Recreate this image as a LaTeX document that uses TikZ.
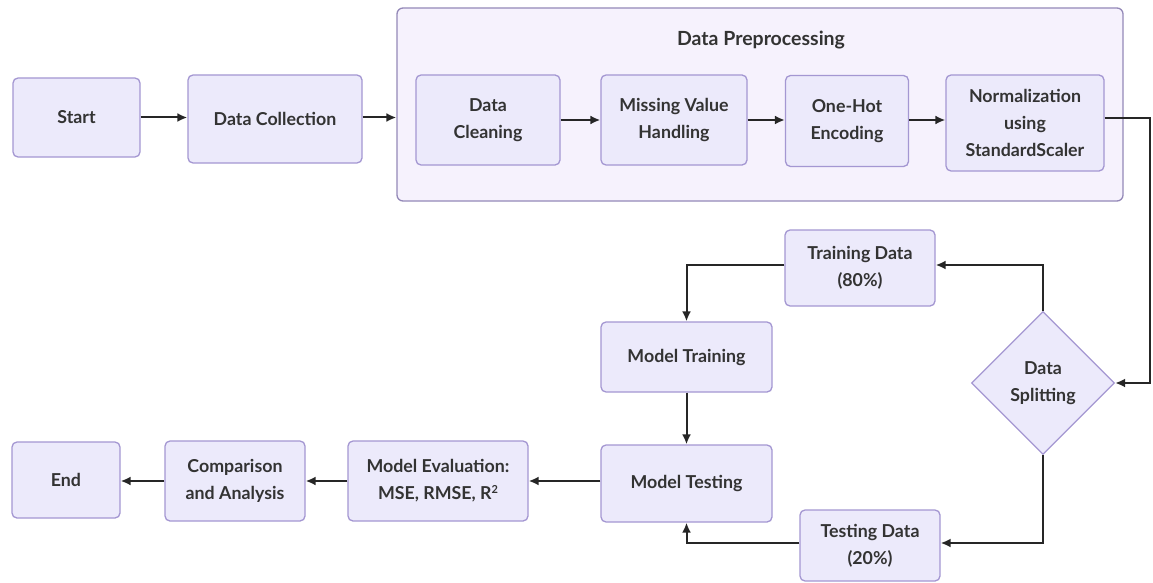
\documentclass[tikz,border=0pt]{standalone}
\usepackage{fontspec}
\setmainfont{Lato}
\usetikzlibrary{shapes.geometric,arrows.meta}
\definecolor{nodefill}{HTML}{ECEAFB}
\definecolor{nodedraw}{HTML}{A497D2}
\definecolor{clusterfill}{HTML}{F6F2FD}
\definecolor{clusterdraw}{HTML}{9489B8}
\definecolor{txt}{HTML}{333333}
\begin{document}
\begin{tikzpicture}[x=1pt,y=-1pt,
  box/.style={draw=nodedraw,fill=nodefill,line width=1.3pt,rounded corners=5pt,align=center,
    font=\fontsize{17.8}{27}\selectfont\bfseries,text=txt,inner sep=0pt},
  dia/.style={diamond,draw=nodedraw,fill=nodefill,line width=1.3pt,align=center,
    font=\fontsize{17.8}{27}\selectfont\bfseries,text=txt,inner sep=0pt,minimum width=143pt,minimum height=143pt,aspect=1},
  conn/.style={line width=2pt,draw=black!85,-{Latex[length=10pt,width=9pt]}}]
\useasboundingbox (0,0) rectangle (1153,583);
\fill[white] (0,0) rectangle (1153,583);
% cluster
\node[draw=clusterdraw,fill=clusterfill,line width=1.3pt,rounded corners=6pt,minimum width=726pt,minimum height=193pt,inner sep=0pt] (prep) at (760,104.5) {};
\node[font=\fontsize{19.5}{22}\selectfont\bfseries,text=txt] (preptitle) at (761,40) {Data Preprocessing};
% nodes
\node[box,minimum width=127pt,minimum height=79pt] (start) at (76.5,117.5) {Start};
\node[box,minimum width=174pt,minimum height=88pt] (coll) at (275,119) {Data Collection};
\node[box,minimum width=144pt,minimum height=90pt] (clean) at (488,120) {Data\\Cleaning};
\node[box,minimum width=146pt,minimum height=90pt] (miss) at (674,120) {Missing Value\\Handling};
\node[box,minimum width=123pt,minimum height=91pt] (onehot) at (847,121) {One-Hot\\Encoding};
\node[box,minimum width=158pt,minimum height=96pt] (norm) at (1025,123) {Normalization\\using\\StandardScaler};
\node[box,minimum width=150pt,minimum height=76pt] (train) at (860,268) {Training Data\\(80\%)};
\node[dia] (split) at (1043,383) {Data\\Splitting};
\node[box,minimum width=171pt,minimum height=70pt] (mtrain) at (686.5,357) {Model Training};
\node[box,minimum width=171pt,minimum height=77pt] (mtest) at (686.5,483.5) {Model Testing};
\node[box,minimum width=140pt,minimum height=71pt] (testd) at (870,545.5) {Testing Data\\(20\%)};
\node[box,minimum width=180pt,minimum height=80pt] (eval) at (438,481) {Model Evaluation:\\MSE, RMSE, R\raisebox{6.5pt}{\fontsize{11}{11}\selectfont 2}};
\node[box,minimum width=140pt,minimum height=80pt] (comp) at (235,481) {Comparison\\and Analysis};
\node[box,minimum width=108pt,minimum height=76pt] (end) at (66,480) {End};
% connectors
\draw[conn] (start.east) -- (coll.west |- start.east);
\draw[conn] (coll.east |- start.east) -- (prep.west |- start.east);
\draw[conn] (clean.east) -- (miss.west);
\draw[conn] (miss.east) -- (onehot.west |- miss.east);
\draw[conn] (onehot.east |- miss.east) -- (norm.west |- miss.east);
\coordinate (c1) at (1150,118);
\draw[conn] (norm.east |- c1) -- (c1) -- (c1 |- split.east) -- (split.east);
\draw[conn] (split.north) -- (split.north |- 0,265) -- (train.east |- 0,265);
\draw[conn] (train.west |- 0,265) -- (mtrain.north |- 0,265) -- (mtrain.north);
\draw[conn] (mtrain.south) -- (mtest.north);
\draw[conn] (split.south) -- (split.south |- 0,543) -- (testd.east |- 0,543);
\draw[conn] (testd.west |- 0,543) -- (mtest.south |- 0,543) -- (mtest.south);
\draw[conn] (mtest.west |- eval.east) -- (eval.east);
\draw[conn] (eval.west) -- (comp.east);
\draw[conn] (comp.west) -- (end.east |- comp.west);
\end{tikzpicture}
\end{document}
